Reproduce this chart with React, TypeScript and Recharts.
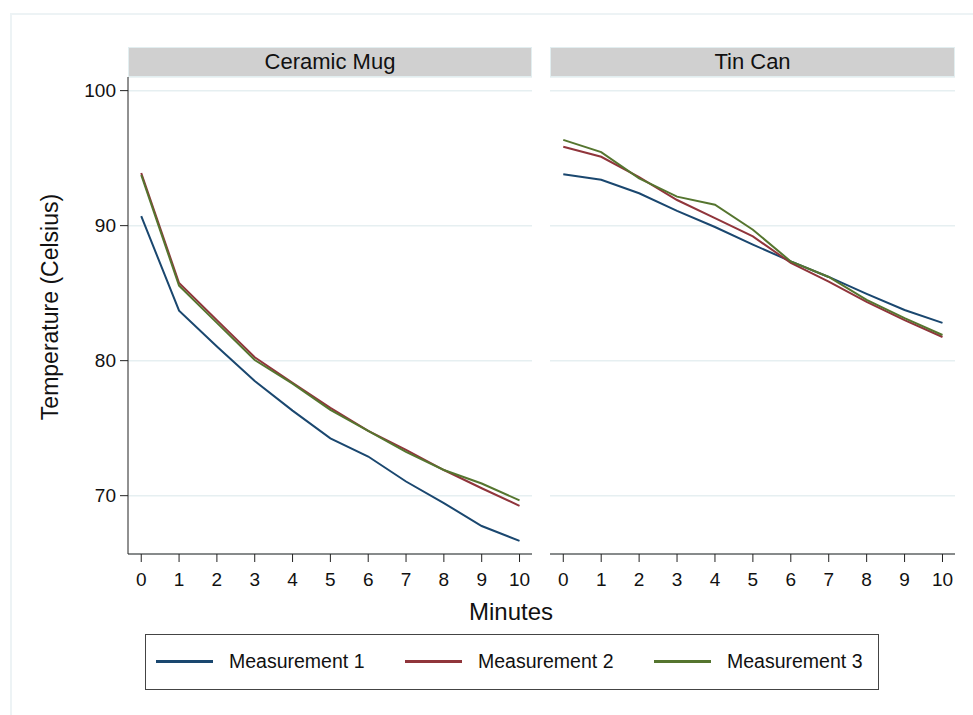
import React from "react";
import { LineChart, Line, XAxis, YAxis, CartesianGrid } from "recharts";

const minutes = [0, 1, 2, 3, 4, 5, 6, 7, 8, 9, 10];

const mugM1 = [90.7, 83.7, 81.05, 78.5, 76.3, 74.25, 72.9, 71.05, 69.45, 67.75, 66.65];
const mugM2 = [93.9, 85.75, 83.0, 80.25, 78.35, 76.5, 74.8, 73.4, 71.9, 70.55, 69.25];
const mugM3 = [93.75, 85.55, 82.8, 80.05, 78.3, 76.35, 74.8, 73.25, 71.9, 70.9, 69.65];

const tinM1 = [93.8, 93.4, 92.4, 91.1, 89.9, 88.6, 87.35, 86.2, 84.95, 83.75, 82.8];
const tinM2 = [95.85, 95.1, 93.6, 91.9, 90.55, 89.2, 87.25, 85.85, 84.35, 83.0, 81.75];
const tinM3 = [96.35, 95.45, 93.5, 92.15, 91.55, 89.7, 87.35, 86.2, 84.5, 83.15, 81.9];

const seriesNames = ["Measurement 1", "Measurement 2", "Measurement 3"];
const seriesColors = ["#1a476f", "#90353b", "#55752f"];
const yTicks = [70, 80, 90, 100];

const FONT = "'Liberation Sans', Arial, sans-serif";

const toRows = (a: number[], b: number[], c: number[]) =>
  minutes.map((m, i) => ({ minute: m, m1: a[i], m2: b[i], m3: c[i] }));

const mugData = toRows(mugM1, mugM2, mugM3);
const tinData = toRows(tinM1, tinM2, tinM3);

const Panel = ({
  data,
  width,
  left,
  showY,
}: {
  data: any[];
  width: number;
  left: number;
  showY: boolean;
}) => (
  <div style={{ position: "absolute", left, top: 0 }}>
    <LineChart
      width={width}
      height={600}
      data={data}
      margin={{ top: 77, right: showY ? 8 : 10, bottom: 6, left: showY ? 0 : 10 }}
    >
      <CartesianGrid vertical={false} stroke="#e6eff1" strokeWidth={1.5} />
      <XAxis
        dataKey="minute"
        type="number"
        domain={[-0.35, 10.33]}
        ticks={minutes}
        allowDataOverflow
        height={40}
        tickSize={8}
        tickMargin={11}
        stroke="#222"
        tick={{ fill: "#111", fontSize: 19, fontFamily: FONT }}
      />
      <YAxis
        type="number"
        domain={[65.68, 101.01]}
        ticks={yTicks}
        allowDataOverflow
        width={128}
        hide={!showY}
        tickSize={8}
        tickMargin={4}
        stroke="#222"
        tick={{ fill: "#111", fontSize: 19, fontFamily: FONT }}
      />
      {["m1", "m2", "m3"].map((k, i) => (
        <Line
          key={k}
          dataKey={k}
          type="linear"
          stroke={seriesColors[i]}
          strokeWidth={2}
          dot={false}
          isAnimationActive={false}
        />
      ))}
    </LineChart>
  </div>
);

const Header = ({ text, left, width }: { text: string; left: number; width: number }) => (
  <div
    style={{
      position: "absolute",
      left,
      top: 47,
      width,
      height: 30,
      boxSizing: "border-box",
      background: "#d0d0d0",
      border: "1px solid #e2eef0",
      fontFamily: FONT,
      fontSize: 22,
      color: "#111",
      textAlign: "center",
      lineHeight: "28px",
    }}
  >
    {text}
  </div>
);

export default function App() {
  return (
    <div
      style={{
        position: "absolute",
        left: 0,
        top: 0,
        width: 973,
        height: 715,
        overflow: "hidden",
        background: "#fff",
        fontFamily: FONT,
      }}
    >
      <div
        style={{
          position: "absolute",
          left: 10,
          top: 13,
          width: 1000,
          height: 800,
          border: "2px solid #edf3f5",
        }}
      />
      <Panel data={mugData} width={540} left={0} showY />
      <Panel data={tinData} width={425} left={540} showY={false} />
      <Header text="Ceramic Mug" left={128} width={404} />
      <Header text="Tin Can" left={550} width={405} />
      <div
        style={{
          position: "absolute",
          left: 50,
          top: 307,
          transform: "translate(-50%, -50%) rotate(-90deg)",
          whiteSpace: "nowrap",
          fontSize: 23,
          color: "#111",
        }}
      >
        Temperature (Celsius)
      </div>
      <div
        style={{
          position: "absolute",
          left: 511,
          top: 612,
          transform: "translate(-50%, -50%)",
          whiteSpace: "nowrap",
          fontSize: 24,
          color: "#111",
        }}
      >
        Minutes
      </div>
      <div
        style={{
          position: "absolute",
          left: 145,
          top: 634,
          width: 734,
          height: 56,
          boxSizing: "border-box",
          border: "1.5px solid #444",
        }}
      >
        {seriesNames.map((name, i) => (
          <div
            key={name}
            style={{
              position: "absolute",
              left: 10 + i * 249,
              top: 0,
              height: 53,
              display: "flex",
              alignItems: "center",
            }}
          >
            <div style={{ width: 57, height: 3, background: seriesColors[i] }} />
            <span style={{ marginLeft: 16, fontSize: 19.5, color: "#111" }}>{name}</span>
          </div>
        ))}
      </div>
    </div>
  );
}
